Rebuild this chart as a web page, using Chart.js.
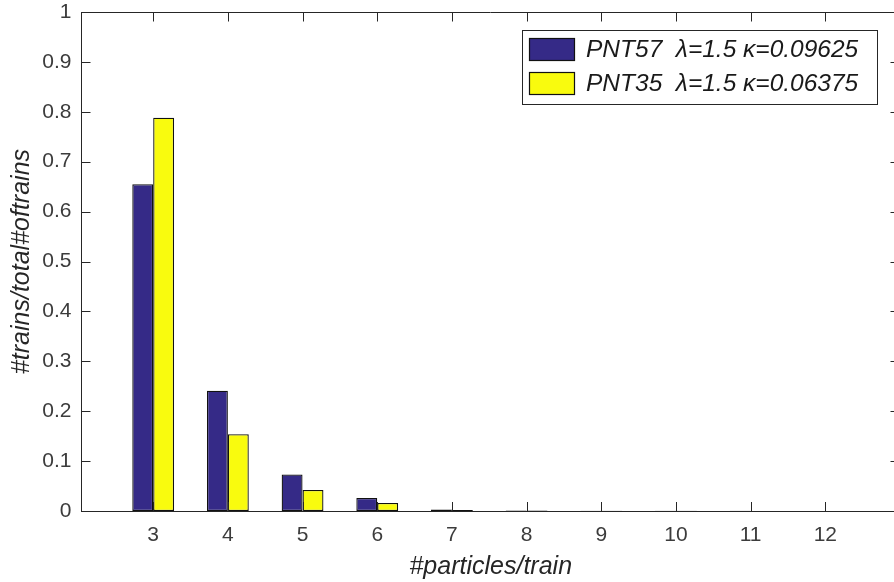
<!DOCTYPE html>
<html>
<head>
<meta charset="utf-8">
<script src="https://cdn.jsdelivr.net/npm/chart.js@4.4.1/dist/chart.umd.min.js"></script>
<style>
  html, body { margin: 0; padding: 0; background: #ffffff; overflow: hidden; }
  #wrap { position: relative; width: 894px; height: 582px; overflow: hidden; }
  #c { position: absolute; left: 0; top: 0; }
</style>
</head>
<body>
<div id="wrap"><canvas id="c" width="900" height="582"></canvas></div>
<script>
// ---- data ----
const categories = [3, 4, 5, 6, 7, 8, 9, 10, 11, 12];
const pnt57 = [0.655, 0.241, 0.073, 0.026, 0.003, 0.0012, 0.0006, 0.0004, 0.0003, 0.0002];
const pnt35 = [0.788, 0.154, 0.042, 0.016, 0.002, 0.0008, 0.0004, 0.0003, 0.0002, 0.0001];
const seriesNames = ['PNT57  \u03bb=1.5 \u03ba=0.09625', 'PNT35  \u03bb=1.5 \u03ba=0.06375'];
const xTickLabels = ['3', '4', '5', '6', '7', '8', '9', '10', '11', '12'];
const yTickLabels = ['0', '0.1', '0.2', '0.3', '0.4', '0.5', '0.6', '0.7', '0.8', '0.9', '1'];
const xTitle = '#particles/train';
const yTitle = '#trains/total#oftrains';

const AXIS = '#262626';
const FONT = "'Liberation Sans', Arial, Helvetica, sans-serif";

// MATLAB-style box: top/right lines and inward ticks on all four sides
const boxPlugin = {
  id: 'boxTicks',
  afterDraw(chart) {
    const {ctx, chartArea: a, scales} = chart;
    const L = 9;
    const top = Math.round(a.top) + 0.5;
    const right = Math.round(a.right) - 0.5;
    ctx.save();
    ctx.strokeStyle = AXIS;
    ctx.lineWidth = 1;
    ctx.beginPath();
    ctx.moveTo(a.left, top);
    ctx.lineTo(right, top);
    ctx.lineTo(right, a.bottom);
    scales.x.ticks.forEach(t => {
      const px = Math.round(scales.x.getPixelForValue(t.value)) + 0.5;
      ctx.moveTo(px, a.bottom); ctx.lineTo(px, a.bottom - L);
      ctx.moveTo(px, top); ctx.lineTo(px, top + L);
    });
    scales.y.ticks.forEach(t => {
      const py = Math.round(scales.y.getPixelForValue(t.value)) + 0.5;
      ctx.moveTo(a.left, py); ctx.lineTo(a.left + L, py);
      ctx.moveTo(right, py); ctx.lineTo(right - L, py);
    });
    ctx.stroke();
    ctx.restore();
  }
};

// boxed legend in the upper right of the axes
const legendPlugin = {
  id: 'boxLegend',
  afterDraw(chart) {
    const {ctx, chartArea: a} = chart;
    const x0 = a.right - 378, y0 = a.top + 18, w = 355, h = 74;
    ctx.save();
    ctx.fillStyle = '#ffffff';
    ctx.fillRect(x0, y0, w, h);
    ctx.strokeStyle = '#262626';
    ctx.lineWidth = 1;
    ctx.strokeRect(Math.round(x0) + 0.5, Math.round(y0) + 0.5, w, h);
    ctx.font = 'italic 24.5px ' + FONT;
    ctx.textBaseline = 'middle';
    chart.data.datasets.forEach((ds, i) => {
      const rowY = y0 + 19 + i * 34;
      const sx = Math.round(x0) + 7.5, sy = Math.round(rowY - 11) + 0.5;
      ctx.fillStyle = ds.backgroundColor;
      ctx.fillRect(sx, sy, 45, 22);
      ctx.strokeStyle = '#111111';
      ctx.lineWidth = 1.2;
      ctx.strokeRect(sx, sy, 45, 22);
      ctx.fillStyle = '#1a1a1a';
      ctx.fillText(ds.label, x0 + 64, rowY + 1);
    });
    ctx.restore();
  }
};

new Chart(document.getElementById('c'), {
  type: 'bar',
  data: {
    datasets: [
      {
        label: seriesNames[0],
        data: categories.map((c, i) => ({x: c, y: pnt57[i]})),
        backgroundColor: '#352a87',
        borderColor: '#111111',
        borderWidth: 1.3,
        borderSkipped: false
      },
      {
        label: seriesNames[1],
        data: categories.map((c, i) => ({x: c, y: pnt35[i]})),
        backgroundColor: '#f9fb0e',
        borderColor: '#111111',
        borderWidth: 1.3,
        borderSkipped: false
      }
    ]
  },
  options: {
    responsive: false,
    animation: false,
    devicePixelRatio: 1,
    layout: { padding: { top: 12, right: 0, left: 0, bottom: 0 } },
    datasets: { bar: { categoryPercentage: 0.56, barPercentage: 1.0 } },
    plugins: { legend: { display: false }, tooltip: { enabled: false } },
    scales: {
      x: {
        type: 'linear',
        offset: false,
        min: 2.04,
        max: 13,
        afterFit(scale) { scale.height = 71; scale.paddingLeft = 0; scale.paddingRight = 0; },
        afterBuildTicks(scale) {
          scale.ticks = categories.map(v => ({value: v}));
        },
        grid: { display: false, drawTicks: false, offset: false },
        border: { display: true, color: AXIS, width: 1 },
        ticks: {
          includeBounds: false,
          padding: 12,
          color: '#3c3c3c',
          font: { family: FONT, size: 21 },
          maxRotation: 0,
          autoSkip: false,
          callback: (v) => {
            const i = categories.indexOf(v);
            return i >= 0 ? xTickLabels[i] : '';
          }
        },
        title: {
          display: true,
          text: xTitle,
          color: AXIS,
          font: { family: FONT, size: 25, style: 'italic' },
          padding: { top: 0, bottom: 0 }
        }
      },
      y: {
        min: 0,
        max: 1,
        afterFit(scale) { scale.width = 81.5; scale.paddingTop = 0; scale.paddingBottom = 0; },
        afterBuildTicks(scale) {
          scale.ticks = yTickLabels.map(s => ({value: parseFloat(s)}));
        },
        grid: { display: false, drawTicks: false },
        border: { display: true, color: AXIS, width: 1 },
        ticks: {
          padding: 10,
          color: '#3c3c3c',
          font: { family: FONT, size: 21 },
          callback: (v, i) => yTickLabels[i]
        },
        title: {
          display: true,
          text: yTitle,
          color: AXIS,
          font: { family: FONT, size: 25, style: 'italic' },
          padding: { top: 7, bottom: 0 }
        }
      }
    }
  },
  plugins: [boxPlugin, legendPlugin]
});
</script>
</body>
</html>
